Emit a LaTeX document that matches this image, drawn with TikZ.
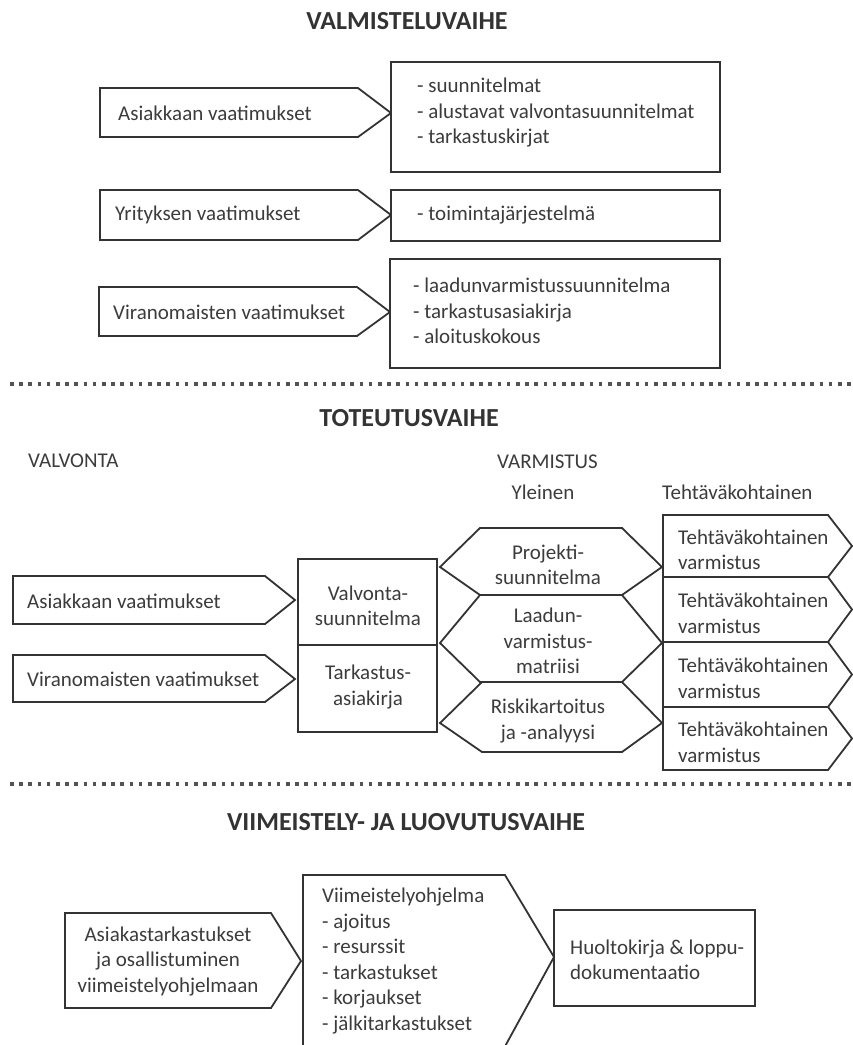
\documentclass[tikz,border=0pt]{standalone}
\usepackage{fontspec}
\setmainfont{Carlito}
\definecolor{ink}{HTML}{333333}
\definecolor{txtc}{HTML}{3C3C3C}
\begin{document}
\begin{tikzpicture}[x=1pt,y=-1pt,
  shp/.style={draw=ink, line width=1.8pt, line join=miter, fill=white},
  txt/.style={font=\fontsize{21}{25.5}\selectfont, text=txtc, inner sep=0pt},
  lt/.style={txt, align=left, anchor=west},
  ct/.style={txt, align=center},
  ttl/.style={font=\fontsize{26}{30}\selectfont\bfseries, text=ink, inner sep=0pt},
  dotline/.style={draw=ink!85, line width=3.6pt, dash pattern=on 3.6pt off 5.6pt}]
\useasboundingbox (0,0) rectangle (853,1045);
\clip (0,0) rectangle (853,1045);

% ---------------- VALMISTELUVAIHE ----------------
\node[ttl] (t1) at (407,21) {VALMISTELUVAIHE};

\draw[shp] (100,88) -- (358,88) -- (391,113) -- (358,137) -- (100,137) -- cycle;
\draw[shp] (391,62) rectangle (720,172);
\node[lt] (a1) at (118,113) {Asiakkaan vaatimukset};
\node[lt] (a1r) at (417,113) {- suunnitelmat\\- alustavat valvontasuunnitelmat\\- tarkastuskirjat};

\draw[shp] (100,190) -- (358,190) -- (391,215) -- (358,240) -- (100,240) -- cycle;
\draw[shp] (391,190) rectangle (720,241);
\node[lt] (a2) at (115,215) {Yrityksen vaatimukset};
\node[lt] (a2r) at (417,215) {- toimintajärjestelmä};

\draw[shp] (99,287) -- (357,287) -- (390,312) -- (357,336) -- (99,336) -- cycle;
\draw[shp] (390,259) rectangle (720,368);
\node[lt] (a3) at (113,312) {Viranomaisten vaatimukset};
\node[lt] (a3r) at (413,311) {- laadunvarmistussuunnitelma\\- tarkastusasiakirja\\- aloituskokous};

\draw[dotline] (10,384) -- (853,384);

% ---------------- TOTEUTUSVAIHE ----------------
\node[ttl] (t2) at (409,418) {TOTEUTUSVAIHE};
\node[lt] (valv) at (28,461) {VALVONTA};
\node[lt] (varm) at (497,462) {VARMISTUS};
\node[ct] (yl) at (543,492) {Yleinen};
\node[lt] (teh) at (662,492) {Tehtäväkohtainen};

\draw[shp] (13,576) -- (265,576) -- (295,600) -- (265,624) -- (13,624) -- cycle;
\draw[shp] (13,655) -- (265,655) -- (295,679) -- (265,702) -- (13,702) -- cycle;
\node[lt] (b1) at (27,601) {Asiakkaan vaatimukset};
\node[lt] (b2) at (27,679) {Viranomaisten vaatimukset};

\draw[shp] (298,559) rectangle (437,645);
\draw[shp] (298,645) rectangle (437,732);
\node[ct] (vs) at (368,606) {Valvonta-\\suunnitelma};
\node[ct] (ta) at (368,687) {Tarkastus-\\asiakirja};

\draw[shp] (440,567) -- (480,528) -- (622,528) -- (662,567) -- (622,595) -- (480,595) -- cycle;
\draw[shp] (440,643) -- (480,595) -- (622,595) -- (662,643) -- (622,682) -- (480,682) -- cycle;
\draw[shp] (440,723) -- (482,682) -- (622,682) -- (662,723) -- (622,752) -- (482,752) -- cycle;
\node[ct] (h1) at (548,565) {Projekti-\\suunnitelma};
\node[ct] (h2) at (548,641) {Laadun-\\varmistus-\\matriisi};
\node[ct] (h3) at (548,721) {Riskikartoitus\\ja -analyysi};

\foreach \t/\b [count=\i] in {515/577,577/642,642/707,707/770}{
  \draw[shp] (663,\t) -- (828,\t) -- (852,{(\t+\b)/2}) -- (828,\b) -- (663,\b) -- cycle;
  \node[lt] (r\i) at (678,{(\t+\b)/2+4}) {Tehtäväkohtainen\\varmistus};
}

\draw[dotline] (10,784) -- (853,784);

% ---------------- VIIMEISTELY- JA LUOVUTUSVAIHE ----------------
\node[ttl] (t3) at (406,822) {VIIMEISTELY- JA LUOVUTUSVAIHE};

\draw[shp] (65,913) -- (271,913) -- (301,961) -- (271,1008) -- (65,1008) -- cycle;
\node[ct] (c1) at (168,961) {Asiakastarkastukset\\ja osallistuminen\\viimeistelyohjelmaan};

\draw[shp] (303,875) -- (505,875) -- (554,957) -- (503,1050) -- (303,1050) -- cycle;
\node[lt] (c2) at (322,961) {Viimeistelyohjelma\\- ajoitus\\- resurssit\\- tarkastukset\\- korjaukset\\- jälkitarkastukset};

\draw[shp] (554,910) rectangle (755,1006);
\node[lt] (c3) at (570,960) {Huoltokirja \& loppu-\\dokumentaatio};
\end{tikzpicture}
\end{document}
